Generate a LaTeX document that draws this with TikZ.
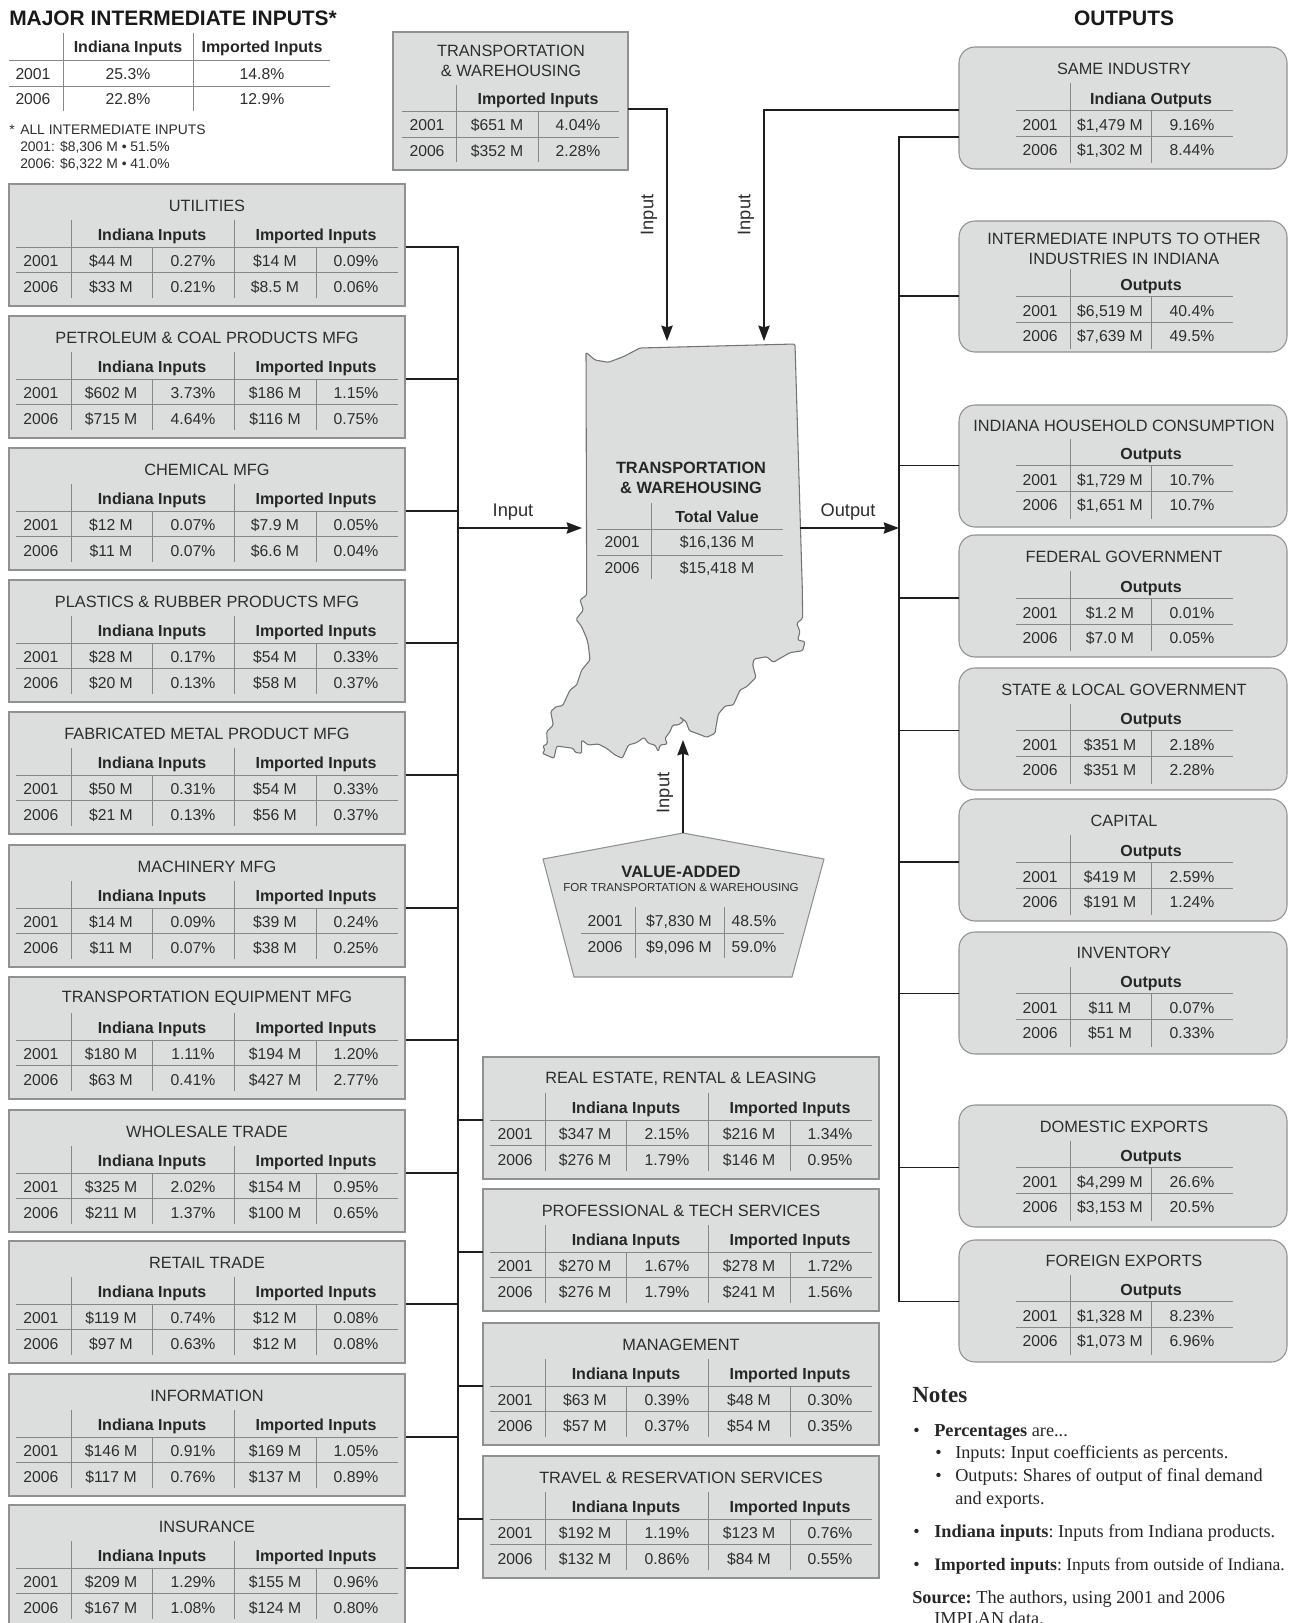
\documentclass[tikz,border=0pt]{standalone}
\usepackage{xcolor}
\usepackage{fontspec}
\setmainfont{Liberation Sans}
\newfontfamily\notesfont{Liberation Serif}
\definecolor{ink}{RGB}{45,45,45}
\definecolor{panelgray}{RGB}{220,222,222}
\definecolor{edgegray}{RGB}{145,145,145}
\definecolor{rulegray}{RGB}{135,135,135}
\definecolor{wire}{RGB}{30,30,30}
\usepackage{tikz}
\usetikzlibrary{
    arrows.meta,
    positioning,
    calc
}

% one table row of a left or middle panel
\newcommand{\inrow}[8]{
    \node[cell] (#1-y#2) at (32,#4) {#3};
    \node[cell] (#1-a#2) at (102,#4) {#5};
    \node[cell] (#1-b#2) at (184,#4) {#6};
    \node[cell] (#1-c#2) at (266,#4) {#7};
    \node[cell] (#1-d#2) at (347,#4) {#8};
}
% name, x, top, title, cells of 2001, cells of 2006
\newcommand{\inpanel}[6]{
    \begin{scope}[shift={(#2,#3)}]
        \node[inbox] (#1) at (0,0) {};
        \coordinate (#1-out) at (397,63);
        \coordinate (#1-in) at (0,63);
        \node[titlecell] (#1-title) at (198,21.5) {#4};
        \node[headcell] (#1-own) at (143,51) {Indiana Inputs};
        \node[headcell] (#1-imp) at (307,51) {Imported Inputs};
        \draw[tablerule] (7,63) -- (389,63);
        \draw[tablerule] (7,88.5) -- (389,88.5);
        \draw[tablerule] (62,36) -- (62,114);
        \draw[tablerule] (143,63) -- (143,114);
        \draw[tablerule] (225,36) -- (225,114);
        \draw[tablerule] (307,63) -- (307,114);
        \inrow{#1}{1}{2001}{76.6}#5
        \inrow{#1}{2}{2006}{102.6}#6
    \end{scope}
}
\newcommand{\outrow}[6]{
    \node[cell] (#1-y#2) at (81,#4) {#3};
    \node[cell] (#1-a#2) at (151,#4) {#5};
    \node[cell] (#1-b#2) at (233,#4) {#6};
}
% name, top, height, extra drop of the table, title, header, cells of 2001, cells of 2006
\newcommand{\outpanel}[8]{
    \begin{scope}[shift={(959,#2)}]
        \node[outbox, minimum height=#3*0.75pt] (#1) at (0,0) {};
        \coordinate (#1-in) at (0,63+#4);
        \node[titlecell] (#1-title) at (165,22+#4/2) {#5};
        \node[headcell] (#1-head) at (192,52+#4) {#6};
        \draw[tablerule] (57,63+#4) -- (274,63+#4);
        \draw[tablerule] (57,89+#4) -- (274,89+#4);
        \draw[tablerule] (111,36+#4) -- (111,116+#4);
        \draw[tablerule] (192,63+#4) -- (192,116+#4);
        \outrow{#1}{1}{2001}{78+#4}#7
        \outrow{#1}{2}{2006}{103+#4}#8
    \end{scope}
}

\begin{document}
\begin{tikzpicture}[
        x=0.75pt, y=-0.75pt,
        cell/.style={anchor=base, yshift=-4.1pt, inner sep=0pt, text=ink, font=\fontsize{11.8}{13}\selectfont},
        headcell/.style={cell, text=black!85, font=\fontsize{12}{13}\selectfont\bfseries},
        titlecell/.style={inner sep=0pt, align=center, text=ink, font=\fontsize{12.25}{15}\selectfont},
        bigtitle/.style={inner sep=0pt, text=black!90, font=\fontsize{15.7}{18}\selectfont\bfseries},
        smallcell/.style={anchor=base west, yshift=-3.5pt, inner sep=0pt, text=ink, font=\fontsize{10.4}{11}\selectfont},
        inbox/.style={rectangle, anchor=north west, draw=edgegray, line width=0.8pt, fill=panelgray, inner sep=0pt, outer sep=0pt, minimum width=297pt, minimum height=91.5pt},
        outbox/.style={rectangle, rounded corners=12pt, anchor=north west, draw=edgegray, line width=0.8pt, fill=panelgray, inner sep=0pt, outer sep=0pt, minimum width=246pt},
        tablerule/.style={draw=rulegray, line width=0.7pt},
        link/.style={draw=wire, line width=1.25pt},
        flow/.style={link, -{Stealth[length=11.5pt, width=8.5pt, inset=1.2pt]}},
        flowlabel/.style={inner sep=0pt, text=ink, font=\fontsize{13.7}{15}\selectfont},
        notehead/.style={anchor=base west, inner sep=0pt, text=black!85, font=\notesfont\fontsize{17.3}{19}\selectfont\bfseries},
        notetext/.style={anchor=base west, yshift=-3.3pt, inner sep=0pt, text=black!85, font=\notesfont\frenchspacing\fontsize{13.7}{15}\selectfont}
    ]
    \useasboundingbox (0,0) rectangle (1288,1623);

    % top left summary
    \node[bigtitle, anchor=west] (major) at (9,18) {MAJOR INTERMEDIATE INPUTS*};
    \node[headcell] (major-own) at (128,47) {Indiana Inputs};
    \node[headcell] (major-imp) at (262,47) {Imported Inputs};
    \draw[tablerule] (9,60) -- (330,60);
    \draw[tablerule] (9,86) -- (330,86);
    \draw[tablerule] (63,33) -- (63,111);
    \draw[tablerule] (193,33) -- (193,111);
    \node[cell] (major-y1) at (33,74) {2001};
    \node[cell] (major-a1) at (128,74) {25.3\%};
    \node[cell] (major-b1) at (262,74) {14.8\%};
    \node[cell] (major-y2) at (33,99) {2006};
    \node[cell] (major-a2) at (128,99) {22.8\%};
    \node[cell] (major-b2) at (262,99) {12.9\%};
    \node[smallcell] (star) at (9,130) {*};
    \node[smallcell] (all) at (20,130) {ALL INTERMEDIATE INPUTS};
    \node[smallcell] (all-a) at (20,147) {2001: \$8,306 M • 51.5\%};
    \node[smallcell] (all-b) at (20,164) {2006: \$6,322 M • 41.0\%};

    % top middle panel
    \node[inbox, minimum width=176.25pt, minimum height=103.5pt] (transport) at (393,32) {};
    \coordinate (transport-out) at (628,109);
    \node[titlecell] (transport-title) at (511,61) {TRANSPORTATION\\\& WAREHOUSING};
    \node[headcell] (transport-head) at (538,99) {Imported Inputs};
    \draw[tablerule] (402,111) -- (619,111);
    \draw[tablerule] (402,137) -- (619,137);
    \draw[tablerule] (456,85) -- (456,162);
    \draw[tablerule] (538,111) -- (538,162);
    \node[cell] (transport-y1) at (427,125) {2001};
    \node[cell] (transport-a1) at (497,125) {\$651 M};
    \node[cell] (transport-b1) at (578,125) {4.04\%};
    \node[cell] (transport-y2) at (427,151) {2006};
    \node[cell] (transport-a2) at (497,151) {\$352 M};
    \node[cell] (transport-b2) at (578,151) {2.28\%};

    \node[bigtitle] (outputs) at (1124,18) {OUTPUTS};

    % left column
    \inpanel{utilities}{9}{184}{UTILITIES}{{\$44 M}{0.27\%}{\$14 M}{0.09\%}}{{\$33 M}{0.21\%}{\$8.5 M}{0.06\%}}
    \inpanel{petroleum}{9}{316}{PETROLEUM \& COAL PRODUCTS MFG}{{\$602 M}{3.73\%}{\$186 M}{1.15\%}}{{\$715 M}{4.64\%}{\$116 M}{0.75\%}}
    \inpanel{chemical}{9}{448}{CHEMICAL MFG}{{\$12 M}{0.07\%}{\$7.9 M}{0.05\%}}{{\$11 M}{0.07\%}{\$6.6 M}{0.04\%}}
    \inpanel{plastics}{9}{580}{PLASTICS \& RUBBER PRODUCTS MFG}{{\$28 M}{0.17\%}{\$54 M}{0.33\%}}{{\$20 M}{0.13\%}{\$58 M}{0.37\%}}
    \inpanel{fabricated}{9}{712}{FABRICATED METAL PRODUCT MFG}{{\$50 M}{0.31\%}{\$54 M}{0.33\%}}{{\$21 M}{0.13\%}{\$56 M}{0.37\%}}
    \inpanel{machinery}{9}{845}{MACHINERY MFG}{{\$14 M}{0.09\%}{\$39 M}{0.24\%}}{{\$11 M}{0.07\%}{\$38 M}{0.25\%}}
    \inpanel{equipment}{9}{977}{TRANSPORTATION EQUIPMENT MFG}{{\$180 M}{1.11\%}{\$194 M}{1.20\%}}{{\$63 M}{0.41\%}{\$427 M}{2.77\%}}
    \inpanel{wholesale}{9}{1110}{WHOLESALE TRADE}{{\$325 M}{2.02\%}{\$154 M}{0.95\%}}{{\$211 M}{1.37\%}{\$100 M}{0.65\%}}
    \inpanel{retail}{9}{1241}{RETAIL TRADE}{{\$119 M}{0.74\%}{\$12 M}{0.08\%}}{{\$97 M}{0.63\%}{\$12 M}{0.08\%}}
    \inpanel{information}{9}{1374}{INFORMATION}{{\$146 M}{0.91\%}{\$169 M}{1.05\%}}{{\$117 M}{0.76\%}{\$137 M}{0.89\%}}
    \inpanel{insurance}{9}{1505}{INSURANCE}{{\$209 M}{1.29\%}{\$155 M}{0.96\%}}{{\$167 M}{1.08\%}{\$124 M}{0.80\%}}

    % middle column
    \inpanel{realestate}{483}{1057}{REAL ESTATE, RENTAL \& LEASING}{{\$347 M}{2.15\%}{\$216 M}{1.34\%}}{{\$276 M}{1.79\%}{\$146 M}{0.95\%}}
    \inpanel{professional}{483}{1189}{PROFESSIONAL \& TECH SERVICES}{{\$270 M}{1.67\%}{\$278 M}{1.72\%}}{{\$276 M}{1.79\%}{\$241 M}{1.56\%}}
    \inpanel{management}{483}{1323}{MANAGEMENT}{{\$63 M}{0.39\%}{\$48 M}{0.30\%}}{{\$57 M}{0.37\%}{\$54 M}{0.35\%}}
    \inpanel{travel}{483}{1456}{TRAVEL \& RESERVATION SERVICES}{{\$192 M}{1.19\%}{\$123 M}{0.76\%}}{{\$132 M}{0.86\%}{\$84 M}{0.55\%}}

    % right column
    \outpanel{sameind}{47}{122}{0}{SAME INDUSTRY}{Indiana Outputs}{{\$1,479 M}{9.16\%}}{{\$1,302 M}{8.44\%}}
    \outpanel{intermediate}{221}{131}{12}{INTERMEDIATE INPUTS TO OTHER\\INDUSTRIES IN INDIANA}{Outputs}{{\$6,519 M}{40.4\%}}{{\$7,639 M}{49.5\%}}
    \outpanel{household}{405}{122}{-2.5}{INDIANA HOUSEHOLD CONSUMPTION}{Outputs}{{\$1,729 M}{10.7\%}}{{\$1,651 M}{10.7\%}}
    \outpanel{federal}{535}{122}{0}{FEDERAL GOVERNMENT}{Outputs}{{\$1.2 M}{0.01\%}}{{\$7.0 M}{0.05\%}}
    \outpanel{statelocal}{668}{122}{-0.5}{STATE \& LOCAL GOVERNMENT}{Outputs}{{\$351 M}{2.18\%}}{{\$351 M}{2.28\%}}
    \outpanel{capital}{799}{122}{0}{CAPITAL}{Outputs}{{\$419 M}{2.59\%}}{{\$191 M}{1.24\%}}
    \outpanel{inventory}{932}{122}{-1.5}{INVENTORY}{Outputs}{{\$11 M}{0.07\%}}{{\$51 M}{0.33\%}}
    \outpanel{domestic}{1105}{122}{-0.5}{DOMESTIC EXPORTS}{Outputs}{{\$4,299 M}{26.6\%}}{{\$3,153 M}{20.5\%}}
    \outpanel{foreign}{1240}{122}{-1.5}{FOREIGN EXPORTS}{Outputs}{{\$1,328 M}{8.23\%}}{{\$1,073 M}{6.96\%}}

    % the state outline
    \begin{scope}[shift={(380,320)}, x=0.25pt, y=-0.25pt]
        \draw[draw=black!55, line width=0.8pt, fill=panelgray, line join=round, rounded corners=1pt]
            (618,97) -- (645,120) -- (685,127) -- (730,110) -- (780,84) -- (1245,72) -- (1267,810) -- (1268,895) -- (1250,910) -- (1260,935) -- (1253,960) -- (1275,965) -- (1268,992) -- (1230,998) -- (1200,1015) -- (1180,1027) -- (1160,1010) -- (1122,1017) -- (1118,1035) -- (1128,1072) -- (1100,1100) -- (1080,1110) -- (1060,1155) -- (1035,1158) -- (1015,1182) -- (1008,1220) -- (1005,1240) -- (980,1252) -- (955,1242) -- (928,1232) -- (918,1205) -- (898,1190) -- (912,1202) -- (895,1215) -- (878,1215) -- (870,1235) -- (855,1255) -- (862,1272) -- (840,1275) -- (835,1295) -- (825,1275) -- (805,1270) -- (792,1252) -- (770,1268) -- (745,1275) -- (727,1315) -- (705,1305) -- (680,1285) -- (655,1272) -- (625,1275) -- (605,1260) -- (605,1300) -- (585,1297) -- (580,1285) -- (545,1280) -- (530,1278) -- (522,1315) -- (505,1308) -- (487,1300) -- (495,1290) -- (488,1278) -- (502,1272) -- (500,1235) -- (520,1215) -- (512,1175) -- (528,1160) -- (548,1157) -- (570,1110) -- (590,1095) -- (605,1050) -- (630,1020) -- (625,975) -- (620,955) -- (605,920) -- (588,898) -- (610,870) -- (600,840) -- (620,825) -- cycle;
    \end{scope}
    \coordinate (map-nw) at (667,341);
    \coordinate (map-ne) at (764,341);
    \coordinate (map-w) at (582,528);
    \coordinate (map-e) at (800,528);
    \coordinate (map-s) at (683,740);
    \node[headcell, font=\fontsize{12.25}{13}\selectfont\bfseries] (map-title) at (691,468) {TRANSPORTATION};
    \node[headcell, font=\fontsize{12.25}{13}\selectfont\bfseries] (map-sub) at (691,488) {\& WAREHOUSING};
    \node[headcell] (map-head) at (717,517) {Total Value};
    \draw[tablerule] (597,529) -- (783,529);
    \draw[tablerule] (597,555) -- (783,555);
    \draw[tablerule] (651,503) -- (651,579);
    \node[cell] (map-y1) at (622,542) {2001};
    \node[cell] (map-a1) at (717,542) {\$16,136 M};
    \node[cell] (map-y2) at (622,568) {2006};
    \node[cell] (map-a2) at (717,568) {\$15,418 M};

    % value added
    \draw[draw=edgegray, line width=0.8pt, fill=panelgray] (683,833) -- (824,859) -- (792,977) -- (574,977) -- (543,859) -- cycle;
    \coordinate (added-top) at (683,833);
    \node[headcell, font=\fontsize{12.4}{13}\selectfont\bfseries] (added) at (681,872) {VALUE-ADDED};
    \node[cell, yshift=0.9pt, font=\fontsize{8.7}{10}\selectfont] (added-sub) at (681,887) {FOR TRANSPORTATION \& WAREHOUSING};
    \draw[tablerule] (581,933) -- (784,933);
    \draw[tablerule] (635,907) -- (635,958);
    \draw[tablerule] (724,907) -- (724,958);
    \node[cell] (added-y1) at (605,921) {2001};
    \node[cell] (added-a1) at (679,921) {\$7,830 M};
    \node[cell] (added-b1) at (754,921) {48.5\%};
    \node[cell] (added-y2) at (605,947) {2006};
    \node[cell] (added-a2) at (679,947) {\$9,096 M};
    \node[cell] (added-b2) at (754,947) {59.0\%};

    % connectors
    \coordinate (lbus) at (458,528);
    \coordinate (rbus) at (899,528);
    \coordinate (sameind-low) at (959,137);
    \draw[link, line cap=rect] (utilities-out -| lbus) -- (insurance-out -| lbus);
    \draw[link] (utilities-out) -- (utilities-out -| lbus);
    \draw[link] (petroleum-out) -- (petroleum-out -| lbus);
    \draw[link] (chemical-out) -- (chemical-out -| lbus);
    \draw[link] (plastics-out) -- (plastics-out -| lbus);
    \draw[link] (fabricated-out) -- (fabricated-out -| lbus);
    \draw[link] (machinery-out) -- (machinery-out -| lbus);
    \draw[link] (equipment-out) -- (equipment-out -| lbus);
    \draw[link] (wholesale-out) -- (wholesale-out -| lbus);
    \draw[link] (retail-out) -- (retail-out -| lbus);
    \draw[link] (information-out) -- (information-out -| lbus);
    \draw[link] (insurance-out) -- (insurance-out -| lbus);
    \draw[link] (realestate-in) -- (realestate-in -| lbus);
    \draw[link] (professional-in) -- (professional-in -| lbus);
    \draw[link] (management-in) -- (management-in -| lbus);
    \draw[link] (travel-in) -- (travel-in -| lbus);
    \draw[flow] (lbus) -- (map-w);

    \draw[link, line cap=rect] (sameind-low -| rbus) -- (foreign-in -| rbus);
    \draw[link] (sameind-low) -- (sameind-low -| rbus);
    \draw[link] (intermediate-in) -- (intermediate-in -| rbus);
    \draw[link] (household-in) -- (household-in -| rbus);
    \draw[link] (federal-in) -- (federal-in -| rbus);
    \draw[link] (statelocal-in) -- (statelocal-in -| rbus);
    \draw[link] (capital-in) -- (capital-in -| rbus);
    \draw[link] (inventory-in) -- (inventory-in -| rbus);
    \draw[link] (domestic-in) -- (domestic-in -| rbus);
    \draw[link] (foreign-in) -- (foreign-in -| rbus);
    \draw[flow] (map-e) -- (rbus);

    \draw[flow] (transport-out) -| (map-nw);
    \draw[flow] (sameind-in) -| (map-ne);
    \draw[flow] (added-top) -- (map-s);
    \node[flowlabel] (input-left) at (513,512) {Input};
    \node[flowlabel] (output-right) at (848,512) {Output};
    \node[flowlabel, rotate=90] (input-a) at (649,215) {Input};
    \node[flowlabel, rotate=90] (input-b) at (746,215) {Input};
    \node[flowlabel, rotate=90] (input-c) at (665,793) {Input};

    % notes
    \node[notehead] (notes) at (912,1402) {Notes};
    \node[notetext] (b1) at (913,1432) {•};
    \node[notetext] (n1) at (934,1432) {\textbf{Percentages} are...};
    \node[notetext] (b2) at (935,1454) {•};
    \node[notetext] (n2) at (955,1454) {Inputs: Input coefficients as percents.};
    \node[notetext] (b3) at (935,1477) {•};
    \node[notetext] (n3) at (955,1477) {Outputs: Shares of output of final demand};
    \node[notetext] (n4) at (955,1500) {and exports.};
    \node[notetext] (b4) at (913,1533) {•};
    \node[notetext] (n5) at (934,1533) {\textbf{Indiana inputs}: Inputs from Indiana products.};
    \node[notetext] (b5) at (913,1566) {•};
    \node[notetext, font=\notesfont\frenchspacing\fontsize{13.2}{15}\selectfont] (n6) at (934,1566) {\textbf{Imported inputs}: Inputs from outside of Indiana.};
    \node[notetext] (n7) at (912,1599) {\textbf{Source:} The authors, using 2001 and 2006};
    \node[notetext] (n8) at (934,1620) {IMPLAN data.};
\end{tikzpicture}
\end{document}
